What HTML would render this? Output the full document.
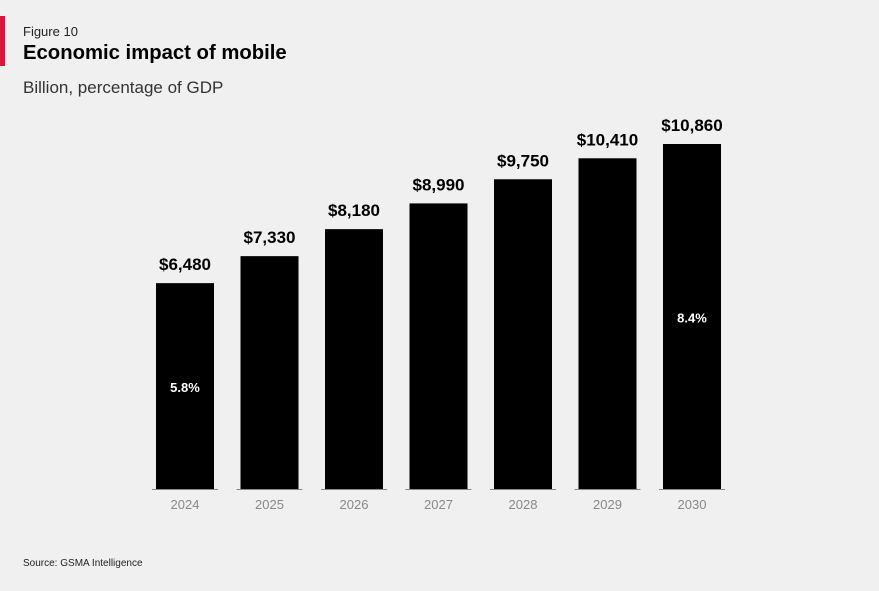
<!DOCTYPE html>
<html><head><meta charset="utf-8"><style>
body{margin:0;width:879px;height:591px;background:#f0f0f0;font-family:"Liberation Sans",sans-serif;overflow:hidden;position:relative}
.t{position:absolute;white-space:nowrap}
</style></head><body>
<div style="position:absolute;left:0;top:16px;width:5px;height:50px;background:#d6163a"></div>
<div class="t" style="left:23px;top:24px;font-size:13px;color:#222">Figure 10</div>
<div class="t" style="left:23px;top:42px;font-size:20.3px;font-weight:bold;color:#000">Economic impact of mobile</div>
<div class="t" style="left:23px;top:78px;font-size:17px;color:#333">Billion, percentage of GDP</div>
<div class="t" style="left:23px;top:558px;font-size:10px;color:#222">Source: GSMA Intelligence</div>
<svg id="chart" width="879" height="591" style="position:absolute;left:0;top:0"></svg>
<script>
const categories=["2024","2025","2026","2027","2028","2029","2030"];
const values=[6480,7330,8180,8990,9750,10410,10860];
const valueLabels=["$6,480","$7,330","$8,180","$8,990","$9,750","$10,410","$10,860"];
const gdpLabels=["5.8%","","","","","","8.4%"];
const svg=document.getElementById('chart');
const NS='http://www.w3.org/2000/svg';
const base=489,scale=345/10860,x0=156,step=84.5,bw=58;
const xPos=i=>x0+i*step;
const yPos=v=>base-v*scale;
function mk(tag,attrs){const e=document.createElementNS(NS,tag);for(const k in attrs)e.setAttribute(k,attrs[k]);svg.appendChild(e);return e;}
categories.forEach((c,i)=>{
  const x=xPos(i),y=yPos(values[i]);
  const b=mk('rect',{x:x,y:y,width:bw,height:base-y,fill:'#000'});
  
  
  const ax=mk('line',{x1:x-4,x2:x+bw+4,y1:base+0.5,y2:base+0.5,stroke:'#888','stroke-width':1});
  
  
  const t=mk('text',{x:x+bw/2,y:base+20,'text-anchor':'middle','font-size':13,fill:'#888','font-family':'Liberation Sans'});
  t.textContent=c;
  
  
  const v=mk('text',{x:x+bw/2,y:y-13,'text-anchor':'middle','font-size':17,'font-weight':'bold',fill:'#000','font-family':'Liberation Sans'});
  v.textContent=valueLabels[i];
  
  
  if(gdpLabels[i]){
    const g=mk('text',{x:x+bw/2,y:(y+base)/2+6,'text-anchor':'middle','font-size':13,'font-weight':'bold',fill:'#fff','font-family':'Liberation Sans'});
    g.textContent=gdpLabels[i];
    
    
  }
});
</script>
</body></html>
